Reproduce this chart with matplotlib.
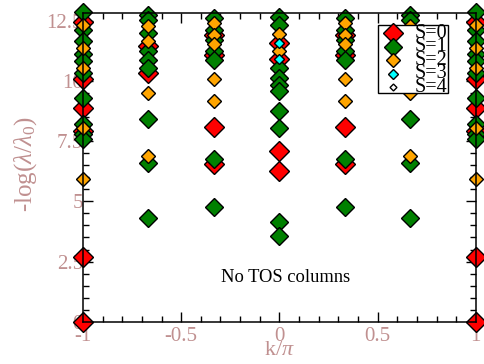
import numpy as np
import matplotlib
matplotlib.use('Agg')
import matplotlib.pyplot as plt
from matplotlib.patches import Rectangle
from matplotlib.ticker import MultipleLocator, FormatStrFormatter

params = {
    'font.family': 'Liberation Serif',
    'mathtext.fontset': 'custom',
    'mathtext.rm': 'Liberation Serif',
    'mathtext.it': 'Liberation Serif:italic',
    'axes.unicode_minus': False,
    'xtick.direction': 'in',
    'ytick.direction': 'in',
    'xtick.top': True,
    'ytick.right': True,
}
plt.rcParams.update(params)

# -log(lambda/lambda_0) per k column, one list per spin sector
k_S0 = [-1, -1, -1, -1, -1, -1,
        -2/3, -2/3,
        -1/3, -1/3, -1/3, -1/3,
        0, 0, 0, 0,
        1/3, 1/3, 1/3, 1/3,
        2/3, 2/3,
        1, 1, 1, 1, 1, 1]
y_S0 = [12.45, 10.06, 8.88, 7.9, 2.7, 0.0,
        11.43, 10.33,
        11.92, 11.09, 8.08, 6.55,
        11.57, 10.93, 7.10, 6.27,
        11.92, 11.09, 8.08, 6.55,
        11.43, 10.33,
        12.45, 10.06, 8.88, 7.9, 2.7, 0.0]

k_S1 = [-1] * 10 + [-2/3] * 9 + [-1/3] * 7 + [0] * 10 + [1/3] * 7 + [2/3] * 9 + [1] * 10
y_S1 = [12.85, 12.1, 11.64, 11.1, 10.81, 10.33, 9.30, 8.2, 7.78, 7.59,
        12.74, 12.54, 11.98, 11.23, 10.88, 10.54, 8.41, 6.61, 4.30,
        12.6, 12.12, 11.71, 11.23, 10.88, 6.75, 4.78,
        12.67, 12.34, 10.54, 10.12, 9.85, 9.57, 8.75, 8.06, 4.16, 3.57,
        12.6, 12.12, 11.71, 11.23, 10.88, 6.75, 4.78,
        12.74, 12.54, 11.98, 11.23, 10.88, 10.54, 8.41, 6.61, 4.30,
        12.85, 12.1, 11.64, 11.1, 10.81, 10.33, 9.30, 8.2, 7.78, 7.59]

k_S2 = [-1] * 5 + [-2/3] * 4 + [-1/3] * 5 + [0] * 2 + [1/3] * 5 + [2/3] * 4 + [1] * 5
y_S2 = [12.33, 11.36, 10.54, 8.06, 5.94,
        12.26, 11.64, 9.50, 6.89,
        12.4, 11.92, 11.53, 10.08, 9.16,
        11.93, 11.23,
        12.4, 11.92, 11.53, 10.08, 9.16,
        12.26, 11.64, 9.50, 6.89,
        12.33, 11.36, 10.54, 8.06, 5.94]

k_S3 = [0, 0]
y_S3 = [11.57, 10.93]

k_S4 = []
y_S4 = []

labels = ['S=0', 'S=1', 'S=2', 'S=3', 'S=4']
series = [(k_S0, y_S0), (k_S1, y_S1), (k_S2, y_S2), (k_S3, y_S3), (k_S4, y_S4)]
colors = ['red', 'green', 'orange', 'cyan', 'white']
sizes = [10.4, 9.0, 7.4, 5.2, 3.5]

tick_col = '#c09090'

fig = plt.figure(figsize=(4.85, 3.64), dpi=100)
ax = fig.add_axes([0.171, 0.116, 0.81, 0.847])

for (kk, yy), c, ms in zip(series, colors, sizes):
    ax.plot(kk, yy, 'D', color=c, markersize=ms, markeredgecolor='black',
            markeredgewidth=1.0, linestyle='none', clip_on=False)

ax.set_xlim(-1, 1)
ax.set_ylim(0, 12.8)
ax.xaxis.set_major_locator(MultipleLocator(0.5))
ax.xaxis.set_minor_locator(MultipleLocator(0.1))
ax.yaxis.set_major_locator(MultipleLocator(2.5))
ax.yaxis.set_minor_locator(MultipleLocator(0.5))
ax.xaxis.set_major_formatter(FormatStrFormatter('%g'))
ax.yaxis.set_major_formatter(FormatStrFormatter('%g'))

ax.tick_params(which='major', length=7, width=1.0, labelsize=15,
               labelcolor=tick_col)
ax.tick_params(which='minor', length=4, width=1.0)
ax.tick_params(axis='y', pad=0)
ax.tick_params(axis='x', pad=4)
for sp in ax.spines.values():
    sp.set_linewidth(1.1)

ax.set_xlabel(r'k/$\pi$', fontsize=16, color=tick_col, labelpad=-4)
ax.set_ylabel(r'-log($\lambda$/$\lambda_0$)', fontsize=18, color=tick_col)
ax.yaxis.set_label_coords(-0.112, 0.51)

ax.text(0.03, 1.85, 'No TOS columns', fontsize=13.3, color='black',
        ha='center', va='center')

# legend box drawn by hand (rows overlap as in the original)
ax.add_patch(Rectangle((0.75, 0.743), 0.179, 0.219, transform=ax.transAxes,
                       facecolor='white', edgecolor='black', lw=1.0, zorder=5))
row_y = np.linspace(0.936, 0.761, len(labels))
for lab, c, ms, ry in zip(labels, colors, sizes, row_y):
    ax.plot([0.789], [ry], 'D', color=c, markersize=ms, markeredgecolor='black',
            markeredgewidth=1.0, transform=ax.transAxes, zorder=6)
    ax.text(0.845, ry, lab, fontsize=14.5, color='black', ha='left',
            va='center', transform=ax.transAxes, zorder=6)

fig.savefig('out.png', dpi=100)
